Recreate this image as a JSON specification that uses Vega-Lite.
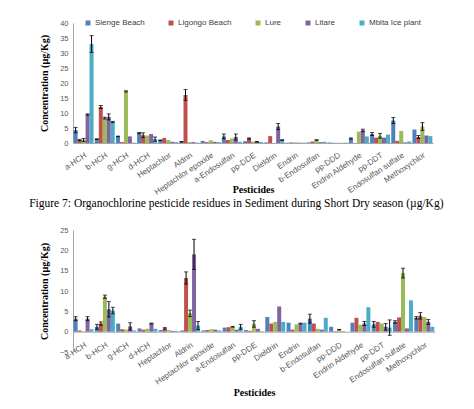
{
  "$schema": "https://vega.github.io/schema/vega-lite/v6.json",
  "padding": {"left": 29, "top": 19, "right": 5, "bottom": 2},
  "background": "white",
  "spacing": 16,
  "datasets": {
    "dry": [
      {"p":"a-HCH","s":"Sienge Beach","v":4.3,"e":0.9},{"p":"a-HCH","s":"Ligongo Beach","v":1.0,"e":0.2},{"p":"a-HCH","s":"Lure","v":1.0,"e":0.5},{"p":"a-HCH","s":"Litare","v":9.5,"e":0.2},{"p":"a-HCH","s":"Mbita Ice plant","v":33,"e":2.8},
      {"p":"b-HCH","s":"Sienge Beach","v":1.3,"e":0.1},{"p":"b-HCH","s":"Ligongo Beach","v":12.0,"e":0.5},{"p":"b-HCH","s":"Lure","v":8.3,"e":0.3},{"p":"b-HCH","s":"Litare","v":8.7,"e":1.0},{"p":"b-HCH","s":"Mbita Ice plant","v":7.0,"e":0.2},
      {"p":"g-HCH","s":"Sienge Beach","v":2.2,"e":0.1},{"p":"g-HCH","s":"Ligongo Beach","v":0.3,"e":0},{"p":"g-HCH","s":"Lure","v":17.2,"e":0.2},{"p":"g-HCH","s":"Litare","v":2.2,"e":0},{"p":"g-HCH","s":"Mbita Ice plant","v":0.1,"e":0},
      {"p":"d-HCH","s":"Sienge Beach","v":3.3,"e":0.2},{"p":"d-HCH","s":"Ligongo Beach","v":2.6,"e":0.8},{"p":"d-HCH","s":"Lure","v":2.5,"e":0},{"p":"d-HCH","s":"Litare","v":3.0,"e":0},{"p":"d-HCH","s":"Mbita Ice plant","v":1.3,"e":0.7},
      {"p":"Heptachlor","s":"Sienge Beach","v":0.9,"e":0.1},{"p":"Heptachlor","s":"Ligongo Beach","v":1.7,"e":0},{"p":"Heptachlor","s":"Lure","v":1.0,"e":0},{"p":"Heptachlor","s":"Litare","v":0.4,"e":0},{"p":"Heptachlor","s":"Mbita Ice plant","v":0.3,"e":0},
      {"p":"Aldrin","s":"Sienge Beach","v":0.4,"e":0.1},{"p":"Aldrin","s":"Ligongo Beach","v":16.0,"e":1.8},{"p":"Aldrin","s":"Lure","v":0.3,"e":0},{"p":"Aldrin","s":"Litare","v":0.3,"e":0},{"p":"Aldrin","s":"Mbita Ice plant","v":0.1,"e":0},
      {"p":"Heptachlor epoxide","s":"Sienge Beach","v":0.7,"e":0},{"p":"Heptachlor epoxide","s":"Ligongo Beach","v":0.3,"e":0},{"p":"Heptachlor epoxide","s":"Lure","v":0.9,"e":0},{"p":"Heptachlor epoxide","s":"Litare","v":0.4,"e":0},{"p":"Heptachlor epoxide","s":"Mbita Ice plant","v":0.3,"e":0},
      {"p":"a-Endosulfan","s":"Sienge Beach","v":2.2,"e":0.8},{"p":"a-Endosulfan","s":"Ligongo Beach","v":1.0,"e":0},{"p":"a-Endosulfan","s":"Lure","v":1.5,"e":0},{"p":"a-Endosulfan","s":"Litare","v":2.0,"e":1.0},{"p":"a-Endosulfan","s":"Mbita Ice plant","v":0.4,"e":0},
      {"p":"pp-DDE","s":"Sienge Beach","v":0.6,"e":0},{"p":"pp-DDE","s":"Ligongo Beach","v":1.5,"e":0.2},{"p":"pp-DDE","s":"Lure","v":0.5,"e":0},{"p":"pp-DDE","s":"Litare","v":0.4,"e":0.1},{"p":"pp-DDE","s":"Mbita Ice plant","v":0.3,"e":0},
      {"p":"Dieldrin","s":"Sienge Beach","v":0.2,"e":0},{"p":"Dieldrin","s":"Ligongo Beach","v":2.3,"e":0},{"p":"Dieldrin","s":"Lure","v":0.0,"e":0},{"p":"Dieldrin","s":"Litare","v":5.5,"e":1.0},{"p":"Dieldrin","s":"Mbita Ice plant","v":1.0,"e":0.1},
      {"p":"Endrin","s":"Sienge Beach","v":0.1,"e":0},{"p":"Endrin","s":"Ligongo Beach","v":0.2,"e":0},{"p":"Endrin","s":"Lure","v":0.2,"e":0},{"p":"Endrin","s":"Litare","v":0.1,"e":0},{"p":"Endrin","s":"Mbita Ice plant","v":0.1,"e":0},
      {"p":"b-Endosulfan","s":"Sienge Beach","v":0.2,"e":0},{"p":"b-Endosulfan","s":"Ligongo Beach","v":0.5,"e":0},{"p":"b-Endosulfan","s":"Lure","v":1.0,"e":0.1},{"p":"b-Endosulfan","s":"Litare","v":0.3,"e":0},{"p":"b-Endosulfan","s":"Mbita Ice plant","v":0.4,"e":0},
      {"p":"pp-DDD","s":"Sienge Beach","v":0.2,"e":0},{"p":"pp-DDD","s":"Ligongo Beach","v":0.05,"e":0},{"p":"pp-DDD","s":"Lure","v":0.05,"e":0},{"p":"pp-DDD","s":"Litare","v":0.05,"e":0},{"p":"pp-DDD","s":"Mbita Ice plant","v":0.1,"e":0},
      {"p":"Endrin Aldehyde","s":"Sienge Beach","v":1.5,"e":0.2},{"p":"Endrin Aldehyde","s":"Ligongo Beach","v":0.0,"e":0},{"p":"Endrin Aldehyde","s":"Lure","v":3.8,"e":0},{"p":"Endrin Aldehyde","s":"Litare","v":4.2,"e":0.4},{"p":"Endrin Aldehyde","s":"Mbita Ice plant","v":2.2,"e":0},
      {"p":"pp-DDT","s":"Sienge Beach","v":3.0,"e":0.5},{"p":"pp-DDT","s":"Ligongo Beach","v":1.8,"e":0},{"p":"pp-DDT","s":"Lure","v":2.4,"e":0.8},{"p":"pp-DDT","s":"Litare","v":1.8,"e":0},{"p":"pp-DDT","s":"Mbita Ice plant","v":2.8,"e":0},
      {"p":"Endosulfan sulfate","s":"Sienge Beach","v":7.5,"e":1.0},{"p":"Endosulfan sulfate","s":"Ligongo Beach","v":0.7,"e":0},{"p":"Endosulfan sulfate","s":"Lure","v":4.0,"e":0},{"p":"Endosulfan sulfate","s":"Litare","v":0.2,"e":0},{"p":"Endosulfan sulfate","s":"Mbita Ice plant","v":0.5,"e":0},
      {"p":"Methoxychlor","s":"Sienge Beach","v":4.5,"e":0},{"p":"Methoxychlor","s":"Ligongo Beach","v":2.0,"e":0.5},{"p":"Methoxychlor","s":"Lure","v":5.5,"e":1.3},{"p":"Methoxychlor","s":"Litare","v":2.5,"e":0},{"p":"Methoxychlor","s":"Mbita Ice plant","v":2.3,"e":0}
    ],
    "wet": [
      {"p":"a-HCH","s":"Sienge Beach","v":3.2,"e":0.5},{"p":"a-HCH","s":"Ligongo Beach","v":0.3,"e":0},{"p":"a-HCH","s":"Lure","v":0.1,"e":0},{"p":"a-HCH","s":"Litare","v":3.2,"e":0.5},{"p":"a-HCH","s":"Mbita Ice plant","v":0.6,"e":0},
      {"p":"b-HCH","s":"Sienge Beach","v":1.2,"e":0.6},{"p":"b-HCH","s":"Ligongo Beach","v":2.0,"e":0.4},{"p":"b-HCH","s":"Lure","v":8.6,"e":0.4},{"p":"b-HCH","s":"Litare","v":5.5,"e":1.9},{"p":"b-HCH","s":"Mbita Ice plant","v":5.2,"e":0.8},
      {"p":"g-HCH","s":"Sienge Beach","v":2.0,"e":0},{"p":"g-HCH","s":"Ligongo Beach","v":0.6,"e":0},{"p":"g-HCH","s":"Lure","v":0.5,"e":0},{"p":"g-HCH","s":"Litare","v":1.3,"e":0.9},{"p":"g-HCH","s":"Mbita Ice plant","v":0.3,"e":0},
      {"p":"d-HCH","s":"Sienge Beach","v":0.8,"e":0},{"p":"d-HCH","s":"Ligongo Beach","v":0.5,"e":0},{"p":"d-HCH","s":"Lure","v":0.7,"e":0},{"p":"d-HCH","s":"Litare","v":2.0,"e":0.1},{"p":"d-HCH","s":"Mbita Ice plant","v":0.7,"e":0},
      {"p":"Heptachlor","s":"Sienge Beach","v":0.4,"e":0},{"p":"Heptachlor","s":"Ligongo Beach","v":0.8,"e":0.2},{"p":"Heptachlor","s":"Lure","v":0.4,"e":0},{"p":"Heptachlor","s":"Litare","v":0.2,"e":0},{"p":"Heptachlor","s":"Mbita Ice plant","v":0.2,"e":0},
      {"p":"Aldrin","s":"Sienge Beach","v":0.3,"e":0},{"p":"Aldrin","s":"Ligongo Beach","v":13.2,"e":1.5},{"p":"Aldrin","s":"Lure","v":4.5,"e":0.8},{"p":"Aldrin","s":"Litare","v":19.0,"e":3.7},{"p":"Aldrin","s":"Mbita Ice plant","v":1.5,"e":1.0},
      {"p":"Heptachlor epoxide","s":"Sienge Beach","v":0.3,"e":0},{"p":"Heptachlor epoxide","s":"Ligongo Beach","v":0.4,"e":0},{"p":"Heptachlor epoxide","s":"Lure","v":0.6,"e":0},{"p":"Heptachlor epoxide","s":"Litare","v":0.5,"e":0},{"p":"Heptachlor epoxide","s":"Mbita Ice plant","v":0.3,"e":0},
      {"p":"a-Endosulfan","s":"Sienge Beach","v":1.0,"e":0},{"p":"a-Endosulfan","s":"Ligongo Beach","v":1.1,"e":0},{"p":"a-Endosulfan","s":"Lure","v":1.2,"e":0.1},{"p":"a-Endosulfan","s":"Litare","v":0.5,"e":0},{"p":"a-Endosulfan","s":"Mbita Ice plant","v":1.2,"e":0.6},
      {"p":"pp-DDE","s":"Sienge Beach","v":0.4,"e":0},{"p":"pp-DDE","s":"Ligongo Beach","v":0.2,"e":0},{"p":"pp-DDE","s":"Lure","v":1.9,"e":0.8},{"p":"pp-DDE","s":"Litare","v":0.7,"e":0},{"p":"pp-DDE","s":"Mbita Ice plant","v":0.1,"e":0},
      {"p":"Dieldrin","s":"Sienge Beach","v":3.6,"e":0},{"p":"Dieldrin","s":"Ligongo Beach","v":2.0,"e":0},{"p":"Dieldrin","s":"Lure","v":2.4,"e":0},{"p":"Dieldrin","s":"Litare","v":6.2,"e":0},{"p":"Dieldrin","s":"Mbita Ice plant","v":2.4,"e":0},
      {"p":"Endrin","s":"Sienge Beach","v":2.2,"e":0},{"p":"Endrin","s":"Ligongo Beach","v":0.5,"e":0},{"p":"Endrin","s":"Lure","v":1.8,"e":0},{"p":"Endrin","s":"Litare","v":2.0,"e":0.1},{"p":"Endrin","s":"Mbita Ice plant","v":2.2,"e":0},
      {"p":"b-Endosulfan","s":"Sienge Beach","v":3.2,"e":1.1},{"p":"b-Endosulfan","s":"Ligongo Beach","v":2.0,"e":0},{"p":"b-Endosulfan","s":"Lure","v":0.7,"e":0},{"p":"b-Endosulfan","s":"Litare","v":0.5,"e":0},{"p":"b-Endosulfan","s":"Mbita Ice plant","v":3.4,"e":0},
      {"p":"pp-DDD","s":"Sienge Beach","v":1.2,"e":0},{"p":"pp-DDD","s":"Ligongo Beach","v":0.1,"e":0},{"p":"pp-DDD","s":"Lure","v":0.5,"e":0.05},{"p":"pp-DDD","s":"Litare","v":0.1,"e":0},{"p":"pp-DDD","s":"Mbita Ice plant","v":0.0,"e":0},
      {"p":"Endrin Aldehyde","s":"Sienge Beach","v":2.2,"e":0},{"p":"Endrin Aldehyde","s":"Ligongo Beach","v":3.4,"e":0},{"p":"Endrin Aldehyde","s":"Lure","v":1.7,"e":0},{"p":"Endrin Aldehyde","s":"Litare","v":2.0,"e":0.5},{"p":"Endrin Aldehyde","s":"Mbita Ice plant","v":6.0,"e":0},
      {"p":"pp-DDT","s":"Sienge Beach","v":1.8,"e":0.7},{"p":"pp-DDT","s":"Ligongo Beach","v":2.4,"e":0},{"p":"pp-DDT","s":"Lure","v":2.0,"e":0},{"p":"pp-DDT","s":"Litare","v":1.2,"e":0.8},{"p":"pp-DDT","s":"Mbita Ice plant","v":1.0,"e":1.9},
      {"p":"Endosulfan sulfate","s":"Sienge Beach","v":2.4,"e":0.3},{"p":"Endosulfan sulfate","s":"Ligongo Beach","v":3.5,"e":0},{"p":"Endosulfan sulfate","s":"Lure","v":14.4,"e":1.2},{"p":"Endosulfan sulfate","s":"Litare","v":0.8,"e":0},{"p":"Endosulfan sulfate","s":"Mbita Ice plant","v":7.7,"e":0},
      {"p":"Methoxychlor","s":"Sienge Beach","v":3.4,"e":0.3},{"p":"Methoxychlor","s":"Ligongo Beach","v":3.9,"e":0.8},{"p":"Methoxychlor","s":"Lure","v":3.6,"e":0},{"p":"Methoxychlor","s":"Litare","v":2.4,"e":0.6},{"p":"Methoxychlor","s":"Mbita Ice plant","v":1.2,"e":0}
    ]
  },
  "config": {
    "view": {"stroke": null},
    "font": "Liberation Sans",
    "axis": {"grid": false, "domainColor": "#a6a6a6", "labelColor": "#595959", "labelFont": "Liberation Sans", "labelFontSize": 7.5, "titleFont": "Liberation Serif", "titleFontWeight": "bold", "titleFontSize": 10, "titleColor": "#000000"},
    "legend": {"labelFont": "Liberation Sans", "labelFontSize": 8, "labelColor": "#404040", "symbolType": "square", "symbolSize": 25, "symbolStrokeWidth": 0, "columnPadding": 22, "labelOffset": 3, "padding": 0},
    "title": {"font": "Liberation Serif", "fontSize": 11.5, "fontWeight": "normal", "color": "#000000"}
  },
  "vconcat": [
    {
      "data": {"name": "dry"},
      "width": 360,
      "height": 120,
      "title": {"text": "Figure 7: Organochlorine pesticide residues in Sediment during Short Dry season (µg/Kg)", "orient": "bottom", "frame": "bounds", "anchor": "middle", "offset": 2},
      "encoding": {
        "x": {"field": "p", "type": "nominal", "sort": null, "scale": {"paddingInner": 0.06, "paddingOuter": 0.03},
              "axis": {"title": "Pesticides", "labelAngle": -34, "labelFontSize": 8, "ticks": false, "labelPadding": 8, "titlePadding": -12}},
        "xOffset": {"field": "s", "type": "nominal", "sort": ["Sienge Beach","Ligongo Beach","Lure","Litare","Mbita Ice plant"]},
        "y": {"field": "v", "type": "quantitative", "scale": {"domain": [0, 40]},
              "axis": {"title": "Concentration (µg/Kg)", "values": [0,5,10,15,20,25,30,35,40], "ticks": false, "labelPadding": 5, "titlePadding": 10}}
      },
      "layer": [
        {
          "mark": {"type": "bar"},
          "encoding": {
            "color": {"field": "s", "type": "nominal", "sort": ["Sienge Beach","Ligongo Beach","Lure","Litare","Mbita Ice plant"],
                      "scale": {"domain": ["Sienge Beach","Ligongo Beach","Lure","Litare","Mbita Ice plant"], "range": ["#4F81BD","#C0504D","#9BBB59","#8064A2","#4BACC6"]},
                      "legend": {"title": null, "orient": "none", "direction": "horizontal", "legendX": 11, "legendY": -4}}
          }
        },
        {
          "transform": [{"filter": "datum.e > 0"}],
          "mark": {"type": "errorbar", "ticks": {"size": 4, "color": "#000000"}, "rule": {"color": "#000000"}, "color": "#000000"},
          "encoding": {
            "yError": {"field": "e"}
          }
        }
      ]
    },
    {
      "data": {"name": "wet"},
      "width": 362,
      "height": 122,
      "encoding": {
        "x": {"field": "p", "type": "nominal", "sort": null, "scale": {"paddingInner": 0.06, "paddingOuter": 0.03},
              "axis": {"title": "Pesticides", "labelAngle": -34, "labelFontSize": 8, "ticks": false, "labelPadding": 9, "titlePadding": 2, "offset": -20.3}},
        "xOffset": {"field": "s", "type": "nominal", "sort": ["Sienge Beach","Ligongo Beach","Lure","Litare","Mbita Ice plant"]},
        "y": {"field": "v", "type": "quantitative", "scale": {"domain": [-5, 25]},
              "axis": {"title": "Concentration (µg/Kg)", "values": [-5,0,5,10,15,20,25], "ticks": false, "labelPadding": 5, "titlePadding": 10}}
      },
      "layer": [
        {
          "mark": {"type": "bar"},
          "encoding": {
            "color": {"field": "s", "type": "nominal", "sort": ["Sienge Beach","Ligongo Beach","Lure","Litare","Mbita Ice plant"],
                      "scale": {"domain": ["Sienge Beach","Ligongo Beach","Lure","Litare","Mbita Ice plant"], "range": ["#4F81BD","#C0504D","#9BBB59","#8064A2","#4BACC6"]},
                      "legend": {"title": null, "orient": "none", "direction": "horizontal", "legendX": 10, "legendY": -3}}
          }
        },
        {
          "transform": [{"filter": "datum.e > 0"}],
          "mark": {"type": "errorbar", "ticks": {"size": 4, "color": "#000000"}, "rule": {"color": "#000000"}, "color": "#000000"},
          "encoding": {
            "yError": {"field": "e"}
          }
        }
      ]
    }
  ]
}
